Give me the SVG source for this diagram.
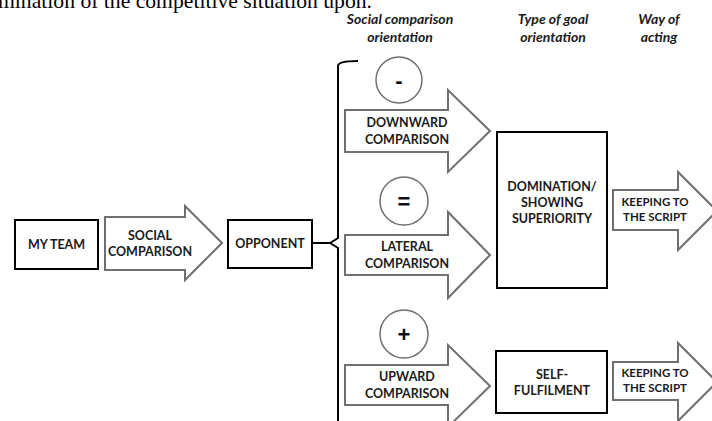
<svg xmlns="http://www.w3.org/2000/svg" width="712" height="421" viewBox="0 0 712 421">
<style>
.box{fill:#fff;stroke:#000;stroke-width:2}
.arr{fill:#fff;stroke:#6f6f6f;stroke-width:2;stroke-linejoin:miter}
.circ{fill:#fff;stroke:#6f6f6f;stroke-width:1.5}
.t{font-family:Lato,"Open Sans","Liberation Sans",sans-serif;font-weight:bold;font-size:12.5px;fill:#1a1a1a;text-anchor:middle}
.k{font-size:11.5px}
.h{font-family:Lato,"Open Sans","Liberation Sans",sans-serif;font-weight:bold;font-style:italic;font-size:14px;fill:#1a1a1a;text-anchor:middle}
.sym{font-family:"Liberation Sans",Arial,sans-serif;font-weight:bold;font-size:22px;fill:#111;text-anchor:middle}
</style>
<rect width="712" height="421" fill="#fff"/>
<text x="-2" y="8" font-family="'Liberation Serif','Times New Roman',serif" font-size="22" fill="#000" textLength="374" lengthAdjust="spacingAndGlyphs">mination of the competitive situation upon.</text>
<g id="headers">
<text class="h" x="400" y="24">Social comparison</text>
<text class="h" x="400" y="42">orientation</text>
<text class="h" x="553" y="24">Type of goal</text>
<text class="h" x="553" y="42">orientation</text>
<text class="h" x="659" y="24">Way of</text>
<text class="h" x="659" y="42">acting</text>
</g>
<g id="connectors">
<path d="M312,243 H330 L338,238 V66 Q338,61 358,61" fill="none" stroke="#000" stroke-width="2"/>
<path d="M330,243 L338,248 V421" fill="none" stroke="#000" stroke-width="2"/>
</g>
<g id="myteam">
<rect class="box" x="15" y="220" width="83" height="49"/>
<text class="t" x="56.5" y="249">MY TEAM</text>
</g>
<g id="social-comparison">
<path class="arr" d="M105,217 H185 V206 L222,243 L185,280 V270 H105 Z"/>
<text class="t" x="150" y="240">SOCIAL</text>
<text class="t" x="150" y="256">COMPARISON</text>
</g>
<g id="opponent">
<rect class="box" x="228" y="220" width="84" height="48"/>
<text class="t" x="270" y="248">OPPONENT</text>
</g>
<g id="minus">
<circle class="circ" cx="399" cy="80" r="23"/>
<text class="sym" x="399" y="88">-</text>
</g>
<g id="downward">
<path class="arr" d="M345,110 H448 V90 L490,131 L448,172 V152 H345 Z"/>
<text class="t" x="407" y="127">DOWNWARD</text>
<text class="t" x="407" y="144">COMPARISON</text>
</g>
<g id="equal">
<circle class="circ" cx="404" cy="201" r="24"/>
<text class="sym" x="404" y="209">=</text>
</g>
<g id="lateral">
<path class="arr" d="M345,235 H448 V212 L490,255 L448,298 V275 H345 Z"/>
<text class="t" x="407" y="251">LATERAL</text>
<text class="t" x="407" y="268">COMPARISON</text>
</g>
<g id="plus">
<circle class="circ" cx="404" cy="334" r="24"/>
<text class="sym" x="404" y="342">+</text>
</g>
<g id="upward">
<path class="arr" d="M345,365 H448 V345 L490,386 L448,427 V405 H345 Z"/>
<text class="t" x="407" y="381">UPWARD</text>
<text class="t" x="407" y="398">COMPARISON</text>
</g>
<g id="domination">
<rect class="box" x="497" y="132" width="110" height="156"/>
<text class="t" x="552" y="191">DOMINATION/</text>
<text class="t" x="552" y="207">SHOWING</text>
<text class="t" x="552" y="223">SUPERIORITY</text>
</g>
<g id="keeping1">
<path class="arr" d="M613,190 H678 V172 L717,211 L678,250 V230 H613 Z"/>
<text class="t k" x="655" y="206">KEEPING TO</text>
<text class="t k" x="655" y="221">THE SCRIPT</text>
</g>
<g id="selffulfilment">
<rect class="box" x="496" y="351" width="111" height="62"/>
<text class="t" x="552" y="379">SELF-</text>
<text class="t" x="552" y="395">FULFILMENT</text>
</g>
<g id="keeping2">
<path class="arr" d="M613,362 H678 V343 L717,382 L678,421 V400 H613 Z"/>
<text class="t k" x="655" y="377">KEEPING TO</text>
<text class="t k" x="655" y="392">THE SCRIPT</text>
</g>
</svg>
